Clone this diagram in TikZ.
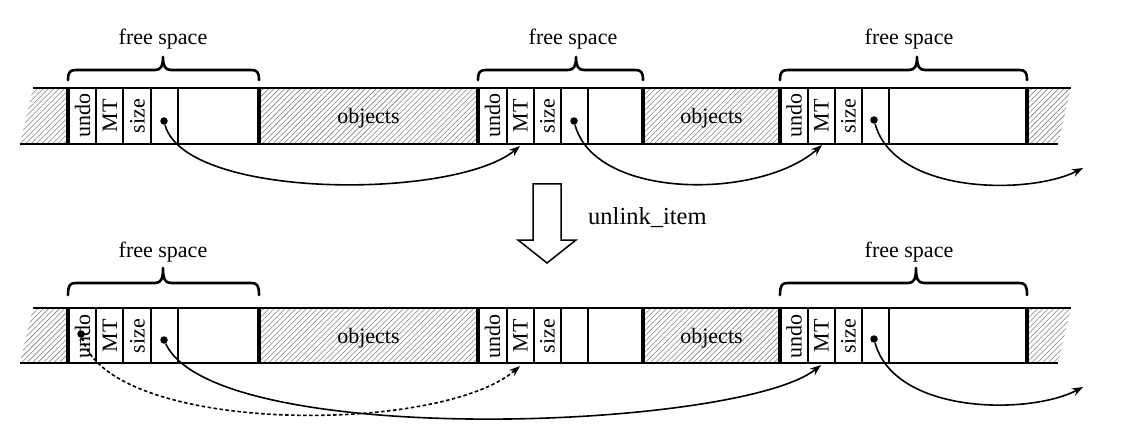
\documentclass[tikz,border=0pt]{standalone}
\usepackage{fontspec}
\setmainfont{Liberation Serif}
\usetikzlibrary{patterns.meta,arrows.meta}
\tikzset{
  hatch/.style={pattern={Lines[angle=45,distance=3.8pt,line width=0.55pt]},pattern color=black!50},
  barline/.style={line width=1.6pt},
  thinsep/.style={line width=1.3pt},
  thicksep/.style={line width=3.2pt},
  bracestyle/.style={line width=2.6pt, line cap=round, line join=round},
  lbl/.style={font=\fontsize{22}{22}\selectfont, inner sep=0pt},
  vlbl/.style={lbl, rotate=90},
  ptr/.style={line width=1.6pt, -{Stealth[length=11pt,width=8pt]}},
  dotptr/.style={ptr, dash pattern=on 3.5pt off 2.5pt},
  dotnode/.style={circle, fill=black, inner sep=0pt, minimum size=7.5pt},
  blockarrow/.style={line width=1.5pt, fill=white},
}
\newcommand\memrow[2]{%
  \fill[hatch] (20,#2) -- (33,#1) -- (68,#1) -- (68,#2) -- cycle;
  \fill[hatch] (259,#1) rectangle (478,#2);
  \fill[hatch] (643,#1) rectangle (780,#2);
  \fill[hatch] (1027,#1) -- (1071,#1) -- (1058,#2) -- (1027,#2) -- cycle;
  \draw[barline] (33,#1) -- (1071,#1);
  \draw[barline] (20,#2) -- (1058,#2);
  \foreach \xx in {96,123,151,178,507,534,561,588,808,835,862,889}
    \draw[thinsep] (\xx,#1) -- (\xx,#2);
  \foreach \xx in {68,259,478,643,780,1027}
    \draw[thicksep] (\xx,#1) -- (\xx,#2);
}
% x1, x2, tip x, y horizontal, y end, y tip
\newcommand\fsbrace[6]{%
  \draw[bracestyle] (#1,#5) .. controls (#1,#4+2) and (#1+2,#4) .. (#1+8,#4)
    -- (#3-8,#4) .. controls (#3-2,#4) and (#3,#4-4) .. (#3,#6)
    .. controls (#3,#4-4) and (#3+2,#4) .. (#3+8,#4)
    -- (#2-8,#4) .. controls (#2-2,#4) and (#2,#4+2) .. (#2,#5);
}
\begin{document}
\begin{tikzpicture}[x=1pt,y=-1pt]
\useasboundingbox (0,0) rectangle (1123,438);

% ---------------- top row ----------------
\memrow{88}{144}
\fsbrace{68}{259}{163}{70}{80}{57}
\fsbrace{478}{643}{576}{70}{80}{57}
\fsbrace{780}{1027}{917}{70}{80}{57}
\node[lbl, anchor=base] (fsA) at (163,45) {free space};
\node[lbl, anchor=base] (fsB) at (573,45) {free space};
\node[lbl, anchor=base] (fsC) at (909,45) {free space};

\node[vlbl] (undoA) at (82.5,116) {undo};
\node[vlbl] (mtA)   at (110,116) {MT};
\node[vlbl] (sizeA) at (137.5,116) {size};
\node[vlbl] (undoB) at (492.5,116) {undo};
\node[vlbl] (mtB)   at (520.5,116) {MT};
\node[vlbl] (sizeB) at (547.5,116) {size};
\node[vlbl] (undoC) at (794,116) {undo};
\node[vlbl] (mtC)   at (821.5,116) {MT};
\node[vlbl] (sizeC) at (848.5,116) {size};
\node[lbl] (objA) at (368.5,118) {objects};
\node[lbl] (objB) at (711.5,118) {objects};

\node[dotnode] (dA) at (164,121) {};
\node[dotnode] (dB) at (574,121) {};
\node[dotnode] (dC) at (874,120) {};
\coordinate (tA) at (520,146);
\coordinate (tB) at (822,145);
\coordinate (tC) at (1083,168);

\draw[ptr] (dA) .. controls (185,200) and (455,200) .. (tA);
\draw[ptr] (dB) .. controls (595,200) and (760,200) .. (tB);
\draw[ptr] (dC) .. controls (895,195) and (1030,195) .. (tC);

% ---------------- transition ----------------
\draw[blockarrow] (533,184) -- (561,184) -- (561,240) -- (576,240) -- (547,263)
  -- (518,240) -- (533,240) -- cycle;
\node[font=\fontsize{24.5}{24.5}\selectfont, inner sep=0pt, anchor=base west]
  (op) at (588,225) {unlink\_item};

% ---------------- bottom row ----------------
\memrow{308}{363}
\fsbrace{68}{259}{163}{283}{295}{268}
\fsbrace{780}{1027}{916}{283}{295}{268}
\node[lbl, anchor=base] (fsD) at (163,258) {free space};
\node[lbl, anchor=base] (fsE) at (909,258) {free space};

\node[vlbl] (undoD) at (82.5,336) {undo};
\node[vlbl] (mtD)   at (110,336) {MT};
\node[vlbl] (sizeD) at (137.5,336) {size};
\node[vlbl] (undoE) at (492.5,336) {undo};
\node[vlbl] (mtE)   at (520.5,336) {MT};
\node[vlbl] (sizeE) at (547.5,336) {size};
\node[vlbl] (undoF) at (794,336) {undo};
\node[vlbl] (mtF)   at (821.5,336) {MT};
\node[vlbl] (sizeF) at (848.5,336) {size};
\node[lbl] (objD) at (368.5,338) {objects};
\node[lbl] (objE) at (711.5,338) {objects};

\node[dotnode] (eU) at (81,334) {};
\node[dotnode] (eA) at (164,340) {};
\node[dotnode] (eC) at (874,339) {};
\coordinate (uA) at (520,366);
\coordinate (uB) at (821,365);
\coordinate (uC) at (1083,387);

\draw[dotptr] (eU) .. controls (110,435) and (440,435) .. (uA);
\draw[ptr] (eA) .. controls (215,450) and (740,430) .. (uB);
\draw[ptr] (eC) .. controls (895,415) and (1030,415) .. (uC);
\end{tikzpicture}
\end{document}
